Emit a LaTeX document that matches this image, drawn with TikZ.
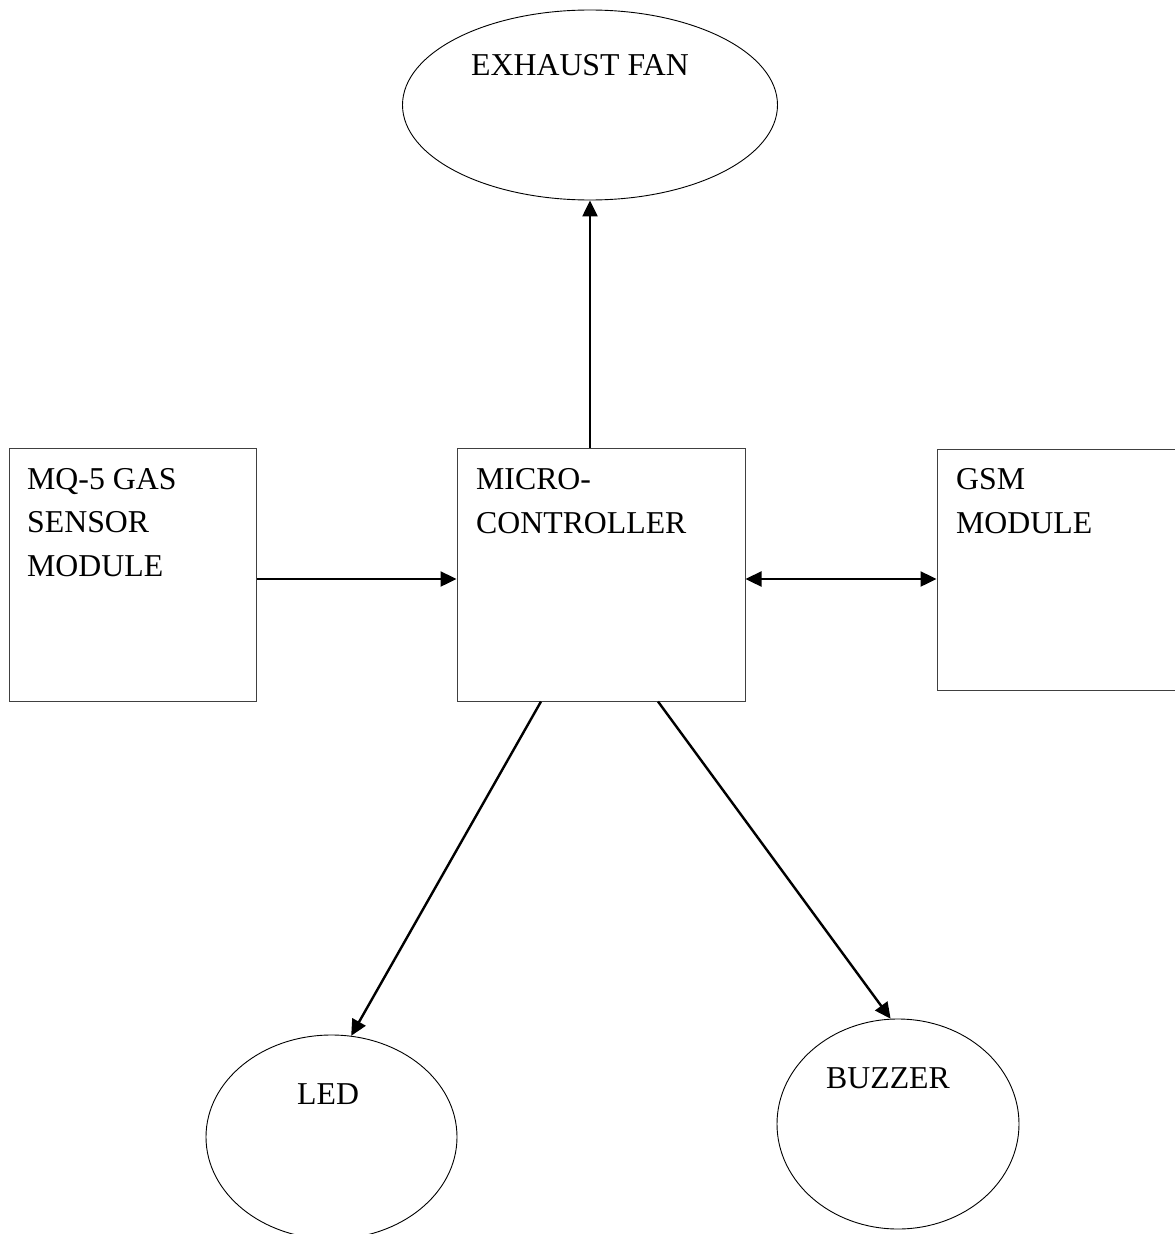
\documentclass[tikz,border=0pt]{standalone}
\usepackage{fontspec}
\setmainfont{Liberation Serif}
\usetikzlibrary{arrows.meta,shapes.geometric,calc}

\tikzset{
  block/.style={draw=black!75, line width=1pt, rectangle, inner sep=0pt},
  oval/.style={draw=black, line width=0.9pt, ellipse, inner sep=0pt},
  % base west of a multi-line label sits on its last line
  label text/.style={anchor=base west, inner sep=0pt, align=left,
    font=\fontsize{31.8}{43.3}\selectfont},
  link/.style={line width=2.4pt, -{Triangle[length=16pt,width=15pt]}},
  duplex/.style={line width=2.4pt, {Triangle[length=16pt,width=15pt]}-{Triangle[length=16pt,width=15pt]}}
}

\begin{document}
\begin{tikzpicture}[x=1pt,y=-1pt]
  \clip (0,0) rectangle (1175,1234);
  \fill[white] (0,0) rectangle (1175,1234);

  % blocks
  \node[block, minimum width=247pt, minimum height=253pt] (sensor) at (132.5,574.5) {};
  \node[block, minimum width=288pt, minimum height=253pt] (mcu) at (601,574.5) {};
  \node[block, minimum width=260pt, minimum height=241pt] (gsm) at (1067,569.5) {};

  % output devices
  \node[oval, minimum width=375pt, minimum height=190pt] (fan) at (590,105) {};
  \node[oval, minimum width=251pt, minimum height=204pt] (led) at (331.5,1137) {};
  \node[oval, minimum width=242pt, minimum height=210pt] (buzzer) at (898,1124) {};

  % texts
  \node[label text] (tsensor) at (27,576) {MQ-5 GAS\\SENSOR\\MODULE};
  \node[label text] (tmcu) at (476,533) {MICRO-\\CONTROLLER};
  \node[label text] (tgsm) at (956,533) {GSM\\MODULE};
  \node[label text] (tfan) at (471,75) {EXHAUST FAN};
  \node[label text] (tled) at (297,1104) {LED};
  \node[label text] (tbuzzer) at (826,1088) {BUZZER};

  % connections
  \draw[link] ($(sensor.east)+(0,4.5)$) -- ($(mcu.west)+(0,4.5)$);
  \draw[duplex] ($(mcu.east)+(0,4.5)$) -- ($(gsm.west)+(0,9.5)$);
  \draw[link] (fan.south |- mcu.north) -- (fan.south);
  \draw[link] ($(mcu.south)+(-60,0)$) -- (led.79);
  \draw[link] ($(mcu.south)+(57,0)$) -- (buzzer.94);
\end{tikzpicture}
\end{document}
